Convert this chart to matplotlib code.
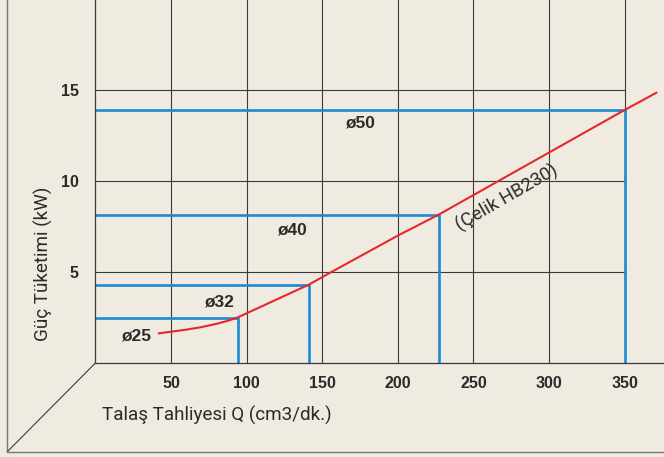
import matplotlib.pyplot as plt
from matplotlib.lines import Line2D

# 데이터
q_ticks = [50, 100, 150, 200, 250, 300, 350]
p_ticks = [5, 10, 15]

# 공구 지름별 작동점 (Q, P)
cutter_names = ['ø25', 'ø32', 'ø40', 'ø50']
cutter_q = [94, 141, 227, 350]
cutter_p = [2.5, 4.3, 8.15, 13.9]
label_q = [27, 82, 130, 175]
label_p = [1.48, 3.37, 7.3, 13.2]

# 곡선 (Çelik HB230)
curve_q = [42, 50, 60, 70, 80, 88, 94, 141, 155, 200, 227, 350, 371]
curve_p = [1.63, 1.72, 1.83, 1.97, 2.15, 2.33, 2.5, 4.3, 4.95, 7.0, 8.15, 13.9, 14.85]

bg = '#efebe1'
blue = '#1b8ad2'
red = '#e8262d'
grid_c = '#3a3a3a'
text_c = '#2b2b2b'

W, H = 664, 457
fig = plt.figure(figsize=(W / 100, H / 100), dpi=100, facecolor=bg)

x0, y0 = 95.4, 363.0  # 축 원점 (픽셀)
ax = fig.add_axes([x0 / W, (H - y0) / H, 1 - x0 / W, y0 / H])
ax.set_facecolor(bg)
ax.set_xlim(0, (W - x0) / 1.512)
ax.set_ylim(0, y0 / 18.2)

for s in ['top', 'right']:
    ax.spines[s].set_visible(False)
for s in ['left', 'bottom']:
    ax.spines[s].set_color(grid_c)
    ax.spines[s].set_linewidth(0.9)

# 격자
for q in q_ticks:
    ax.axvline(q, color=grid_c, lw=0.8, zorder=1)
for p in p_ticks:
    ax.plot([0, 350], [p, p], color=grid_c, lw=0.8, zorder=1)

# 파란 보조선
for q, p in zip(cutter_q, cutter_p):
    ax.plot([0, q, q], [p, p, 0], color=blue, lw=1.9, zorder=2)

ax.plot(curve_q, curve_p, color=red, lw=1.5, zorder=3)

for name, q, p in zip(cutter_names, label_q, label_p):
    ax.text(q, p, name, ha='center', va='center', fontsize=12.5,
            fontweight='bold', family='Liberation Sans', color=text_c)

ax.text(272, 9.05, '(Çelik HB230)', rotation=30, ha='center', va='center',
        fontsize=13.5, family='Roboto', color=text_c, rotation_mode='anchor')

ax.set_xticks(q_ticks)
ax.set_yticks(p_ticks)
ax.tick_params(length=0, labelsize=11.5, labelcolor=text_c)
ax.tick_params(axis='x', pad=9)
ax.tick_params(axis='y', pad=12)
for lab in ax.get_xticklabels() + ax.get_yticklabels():
    lab.set_fontweight('bold')
    lab.set_family('Liberation Sans')

# 축 제목
fig.text(216.7 / W, 1 - 415 / H, 'Talaş Tahliyesi Q (cm3/dk.)', ha='center',
         va='center', fontsize=13.6, family='Roboto', color=text_c)
fig.text(43 / W, 1 - 264 / H, 'Güç Tüketimi (kW)', ha='center', va='center',
         rotation=90, fontsize=13.6, family='Roboto', color=text_c)

# 테두리와 대각선
def px_line(xs, ys, **kw):
    fig.add_artist(Line2D([x / W for x in xs], [1 - y / H for y in ys],
                          transform=fig.transFigure, **kw))

px_line([6.7, 6.7, W], [0, 452, 452], color='#777777', lw=1.0)
px_line([x0, 8], [y0, 451], color=grid_c, lw=0.8)

fig.savefig('out.png', dpi=100, facecolor=bg)
